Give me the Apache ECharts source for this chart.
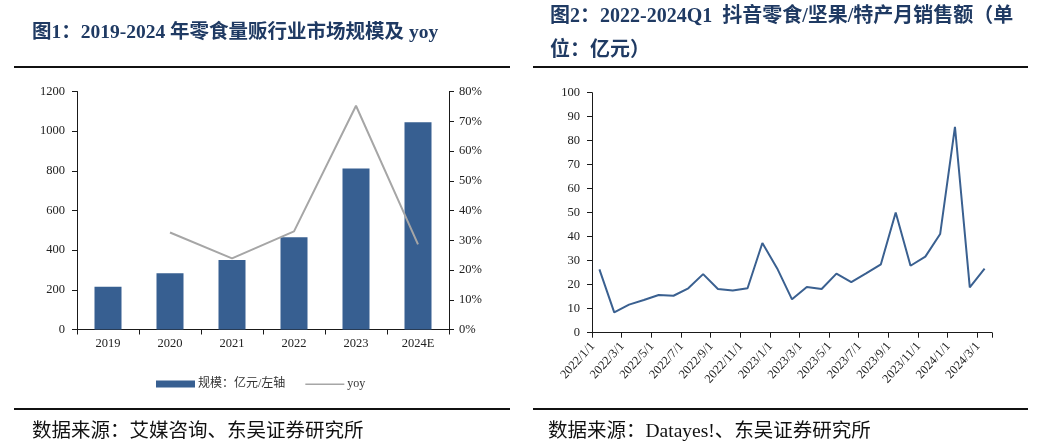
<!DOCTYPE html>
<html><head><meta charset="utf-8">
<script src="https://cdn.jsdelivr.net/npm/echarts@6/dist/echarts.min.js"></script>
<style>html,body{margin:0;padding:0;background:#fff}#c{width:1043px;height:447px}</style>
</head><body><div id="c"></div>
<script>
// ---- Chart 1 data ----
const years = ['2019', '2020', '2021', '2022', '2023', '2024E'];
const marketSize = [215, 283, 350, 465, 812, 1045];
const yoyPct = [null, 32.6, 23.9, 33.0, 75.2, 28.6];
// ---- Chart 2 data ----
const months = ['2022/1/1','2022/2/1','2022/3/1','2022/4/1','2022/5/1','2022/6/1','2022/7/1','2022/8/1','2022/9/1','2022/10/1','2022/11/1','2022/12/1',
  '2023/1/1','2023/2/1','2023/3/1','2023/4/1','2023/5/1','2023/6/1','2023/7/1','2023/8/1','2023/9/1','2023/10/1','2023/11/1','2023/12/1',
  '2024/1/1','2024/2/1','2024/3/1'];
const monthlySales = [26.4, 8.5, 11.7, 13.6, 15.7, 15.4, 18.5, 24.4, 18.2, 17.6, 18.5, 37.4,
  26.8, 13.9, 19.0, 18.2, 24.6, 21.1, 24.7, 28.5, 50.1, 27.9, 31.7, 41.1,
  85.8, 18.9, 26.7];
// ---- Texts ----
const title1 = '图1：2019-2024 年零食量贩行业市场规模及 yoy';
const title2 = '图2：2022-2024Q1  抖音零食/坚果/特产月销售额（单\n位：亿元）';
const source1 = '数据来源：艾媒咨询、东吴证券研究所';
const source2 = '数据来源：Datayes!、东吴证券研究所';
const legendNames = ['规模：亿元/左轴', 'yoy'];

const SERIF = "'Liberation Serif','Times New Roman','Noto Sans CJK SC',serif";
const AX = '#1a1a1a';
const LBL = '#222';
const titleColor = '#1F3A63';
const barColor = '#375F91';

const chart = echarts.init(document.getElementById('c'), null, {renderer: 'canvas'});
const axisLabelBase = {color: LBL, fontFamily: SERIF, fontSize: 12.5};
const plain = v => String(v);

chart.setOption({
  animation: false,
  backgroundColor: '#fff',
  title: [
    {text: title1, left: 27, top: 18, textStyle: {fontFamily: SERIF, fontWeight: 'bold', fontSize: 19.5, color: titleColor}},
    {text: title2, left: 545, top: -5, textStyle: {fontFamily: SERIF, fontWeight: 'bold', fontSize: 20, color: titleColor, lineHeight: 34}},
    {text: source1, left: 27, top: 417, textStyle: {fontFamily: SERIF, fontWeight: 'normal', fontSize: 19.5, color: '#111'}},
    {text: source2, left: 543, top: 417, textStyle: {fontFamily: SERIF, fontWeight: 'normal', fontSize: 19.5, color: '#111'}}
  ],
  graphic: [
    {type: 'line', shape: {x1: 14, y1: 67, x2: 510, y2: 67}, style: {stroke: '#111', lineWidth: 2}},
    {type: 'line', shape: {x1: 533, y1: 67, x2: 1028, y2: 67}, style: {stroke: '#111', lineWidth: 2}},
    {type: 'line', shape: {x1: 14, y1: 409, x2: 510, y2: 409}, style: {stroke: '#111', lineWidth: 2}},
    {type: 'line', shape: {x1: 533, y1: 409, x2: 1028, y2: 409}, style: {stroke: '#111', lineWidth: 2}}
  ],
  legend: {
    left: 151, top: 373, itemWidth: 39, itemHeight: 7, itemGap: 20,
    textStyle: {fontFamily: SERIF, fontSize: 12, color: '#333', padding: [0, 0, 0, -2]},
    data: [
      {name: legendNames[0], icon: 'rect'},
      {name: legendNames[1], icon: 'path://M0,0L0.01,0L0.01,0.01Z M0,3L40,3L40,4.6L0,4.6Z M0,7L0.01,7L0.01,6.99Z',
        itemStyle: {color: '#A6A6A6'}}
    ]
  },
  grid: [
    {left: 77, right: 594, top: 91.5, bottom: 117.5},
    {left: 592, right: 51, top: 92.7, bottom: 114.3}
  ],
  xAxis: [
    {type: 'category', gridIndex: 0, data: years,
      axisLine: {lineStyle: {color: AX, width: 1}},
      axisTick: {show: true, length: 5, lineStyle: {color: AX}},
      axisLabel: Object.assign({margin: 8}, axisLabelBase)},
    {type: 'category', gridIndex: 1, data: months,
      axisLine: {lineStyle: {color: AX, width: 1}},
      axisTick: {show: true, length: 5, interval: 1, lineStyle: {color: AX}},
      axisLabel: Object.assign({interval: 1, rotate: 48, margin: 4, padding: [0, 10, 0, 0]}, axisLabelBase)}
  ],
  yAxis: [
    {type: 'value', gridIndex: 0, min: 0, max: 1200, interval: 200,
      axisLine: {show: true, lineStyle: {color: AX}},
      axisTick: {show: true, length: 5, lineStyle: {color: AX}},
      splitLine: {show: false},
      axisLabel: Object.assign({margin: 12, formatter: plain}, axisLabelBase)},
    {type: 'value', gridIndex: 0, position: 'right', min: 0, max: 80, interval: 10,
      axisLine: {show: true, lineStyle: {color: AX}},
      axisTick: {show: true, length: 5, lineStyle: {color: AX}},
      splitLine: {show: false},
      axisLabel: Object.assign({margin: 10, formatter: '{value}%'}, axisLabelBase)},
    {type: 'value', gridIndex: 1, min: 0, max: 100, interval: 10,
      axisLine: {show: true, lineStyle: {color: AX}},
      axisTick: {show: true, length: 5, lineStyle: {color: AX}},
      splitLine: {show: false},
      axisLabel: Object.assign({margin: 12, formatter: plain}, axisLabelBase)}
  ],
  series: [
    {name: legendNames[0], type: 'bar', xAxisIndex: 0, yAxisIndex: 0, data: marketSize,
      barWidth: 27, itemStyle: {color: barColor}},
    {name: legendNames[1], type: 'line', xAxisIndex: 0, yAxisIndex: 1, data: yoyPct,
      symbol: 'none', lineStyle: {color: '#A6A6A6', width: 2}, itemStyle: {color: '#A6A6A6'}},
    {name: 'sales', type: 'line', xAxisIndex: 1, yAxisIndex: 2, data: monthlySales,
      symbol: 'none', lineStyle: {color: '#3A6090', width: 2}, itemStyle: {color: '#3A6090'}}
  ]
});
</script></body></html>
